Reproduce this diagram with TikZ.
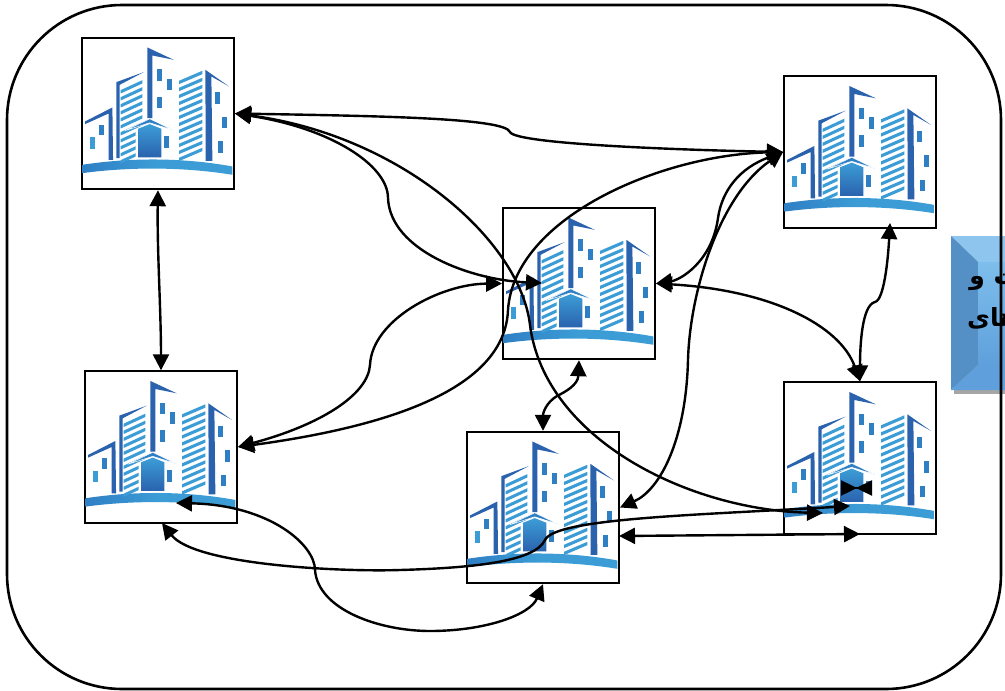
\documentclass[tikz,border=0pt]{standalone}
\usepackage{fontspec}
\usetikzlibrary{arrows.meta}
\TeXXeTstate=1
\newfontfamily\arabicfont[Script=Arabic]{DejaVu Sans}
\definecolor{bdark}{HTML}{2A62AE}
\definecolor{bmid}{HTML}{2F7FC4}
\definecolor{blight}{HTML}{3C9DD6}
\tikzset{
  bbox/.style={draw=black,fill=white,line width=1.9pt,minimum width=152pt,minimum height=151.5pt,inner sep=0pt},
  link/.style={line width=2.4pt,draw=black,{Triangle[length=16pt,width=16pt]}-{Triangle[length=16pt,width=16pt]}},
  bowtie/.style={line width=2.4pt,draw=black,{Triangle[length=16pt,width=15pt,reversed]}-{Triangle[length=16pt,width=15pt,reversed]}},
  frame/.style={draw=black,line width=2.6pt,rounded corners=115pt,minimum width=994pt,minimum height=684pt,inner sep=0pt},
  lbl/.style={font=\arabicfont\bfseries\fontsize{25}{29}\selectfont,text=black,inner sep=0pt},
  bldg/.pic={
    \begin{scope}[x=0.3333pt,y=-0.3333pt,shift={(-11.33pt,12pt)}]
      % base swoosh
      \shade[left color=bmid,right color=blight,middle color=blight]
        (38,420) .. controls (180,398) and (340,398) .. (488,425) -- (488,450)
        .. controls (340,426) and (180,426) .. (38,445) -- cycle;
      % left small building
      \fill[bdark] (46,290) -- (128,248) -- (130,405) -- (117,405) -- (117,266) -- (46,298) -- cycle;
      \fill[blight] (60,338) rectangle (75,372);
      \fill[bmid] (88,300) rectangle (104,332);
      % middle building
      \fill[bdark] (140,172) -- (222,142) -- (150,180) -- (150,400) -- (140,400) -- cycle;
      \foreach \s in {0,1,...,10}{
        \fill[blight] (153,{196+21*\s}) -- (218,{166+21*\s}) -- (218,{176+21*\s}) -- (153,{206+21*\s}) -- cycle;
      }
      % tall building
      \fill[bdark] (233,68) -- (312,105) -- (248,92) -- (248,280) -- (233,280) -- cycle;
      \fill[bmid] (262,134) rectangle (277,168);
      \fill[bmid] (291,162) rectangle (306,196);
      \fill[bmid] (262,216) rectangle (277,250);
      % right building
      \foreach \s in {0,1,...,11}{
        \fill[blight] (328,{168+21*\s}) -- (398,{138+21*\s}) -- (398,{148+21*\s}) -- (328,{178+21*\s}) -- cycle;
      }
      \fill[bdark] (407,135) -- (478,185) -- (425,155) -- (428,408) -- (408,408) -- cycle;
      \fill[bmid] (437,203) rectangle (452,237);
      \fill[bmid] (458,276) rectangle (473,310);
      \fill[bmid] (445,350) rectangle (460,384);
      % house
      \fill[white] (198,402) -- (198,316) -- (240,288) -- (282,316) -- (282,402) -- cycle;
      \fill[bmid,draw=white,line width=0.5pt] (165,318) -- (240,282) -- (310,316) -- (240,294) -- cycle;
      \shade[top color=blight,bottom color=bdark] (205,312) -- (240,298) -- (275,312) -- (275,398) -- (205,398) -- cycle;
      \fill[bmid] (283,335) rectangle (298,370);
    \end{scope}
  }
}
\begin{document}
\begin{tikzpicture}[x=1pt,y=-1pt]
\useasboundingbox (0,0) rectangle (1005,691);
\clip (0,0) rectangle (1005,691);
% side panel
\fill[black!35] (954,240) rectangle (1012,394);
\fill[color={rgb,255:red,141;green,197;blue,238}] (951,236) -- (1012,236) -- (1012,262) -- (978,262) -- cycle;
\fill[color={rgb,255:red,84;green,144;blue,198}] (951,236) -- (978,262) -- (978,365) -- (951,390) -- cycle;
\fill[color={rgb,255:red,95;green,160;blue,220}] (951,390) -- (978,365) -- (1012,365) -- (1012,390) -- cycle;
\shade[top color={rgb,255:red,126;green,190;blue,236},bottom color={rgb,255:red,95;green,160;blue,220}] (978,262) rectangle (1012,365);
\node[lbl,anchor=east] (line1) at (1019,282) {\beginR ت و\endR};
\node[lbl,anchor=east] (line2) at (1017,318) {\beginR های\endR};
% frame
\node[frame] (frame) at (504,347) {};
% buildings
\node[bbox] (a) at (158,113.5) {};
\node[bbox] (b) at (860,152) {};
\node[bbox] (c) at (579,283.5) {};
\node[bbox] (d) at (161,447) {};
\node[bbox] (e) at (543,507.5) {};
\node[bbox] (f) at (860,458) {};
\pic at (a.north west) {bldg};
\pic at (b.north west) {bldg};
\pic at (c.north west) {bldg};
\pic at (d.north west) {bldg};
\pic at (e.north west) {bldg};
\pic at (f.north west) {bldg};
% free ends
\coordinate (cin) at (542,283);
\coordinate (fa) at (823,513);
\coordinate (bs) at (890,223);
\coordinate (fnw) at (850,506);
\coordinate (din) at (176,503);
\coordinate (ds) at (162,523);
\coordinate (elow) at (619,536);
\coordinate (flow) at (860,534);
\coordinate (bowl) at (841,488);
\coordinate (bowr) at (872,488);
% connectors
\draw[link] (a.east) .. controls (380,116) and (505,118) .. (510,132) .. controls (515,144) and (680,150) .. (b.west);
\draw[link] (a.east) .. controls (330,128) and (388,165) .. (388,198) .. controls (390,250) and (470,280) .. (cin);
\draw[link] (a.east) .. controls (400,135) and (520,240) .. (530,325) .. controls (545,440) and (690,510) .. (fa);
\draw[link] (a.south) .. controls (157,250) and (161,310) .. (d.north);
\draw[link] (d.east) .. controls (320,425) and (368,395) .. (370,365) .. controls (372,320) and (440,284) .. (c.west);
\draw[link] (d.east) .. controls (400,425) and (505,385) .. (508,310) .. controls (514,218) and (660,155) .. (b.west);
\draw[link] (b.west) .. controls (740,168) and (722,190) .. (718,218) .. controls (712,262) and (680,280) .. (c.east);
\draw[link] (b.west) .. controls (720,195) and (690,290) .. (688,360) .. controls (686,440) and (660,490) .. (e.east);
\draw[link] (c.east) .. controls (770,290) and (840,325) .. (f.north);
\draw[link] (bs) .. controls (888,260) and (884,300) .. (875,302) .. controls (862,305) and (860,345) .. (f.north);
\draw[link] (c.south) .. controls (578,385) and (565,392) .. (557,396) .. controls (547,402) and (543,412) .. (e.north);
\draw[link] (ds) .. controls (195,565) and (340,572) .. (400,570) .. controls (470,568) and (535,562) .. (545,540) .. controls (555,518) and (700,515) .. (fnw);
\draw[link] (din) .. controls (270,505) and (315,545) .. (315,570) .. controls (318,610) and (380,631) .. (430,631) .. controls (485,631) and (530,615) .. (e.south);
\draw[link] (elow) -- (flow);
\draw[bowtie] (bowl) -- (bowr);
\end{tikzpicture}
\end{document}
